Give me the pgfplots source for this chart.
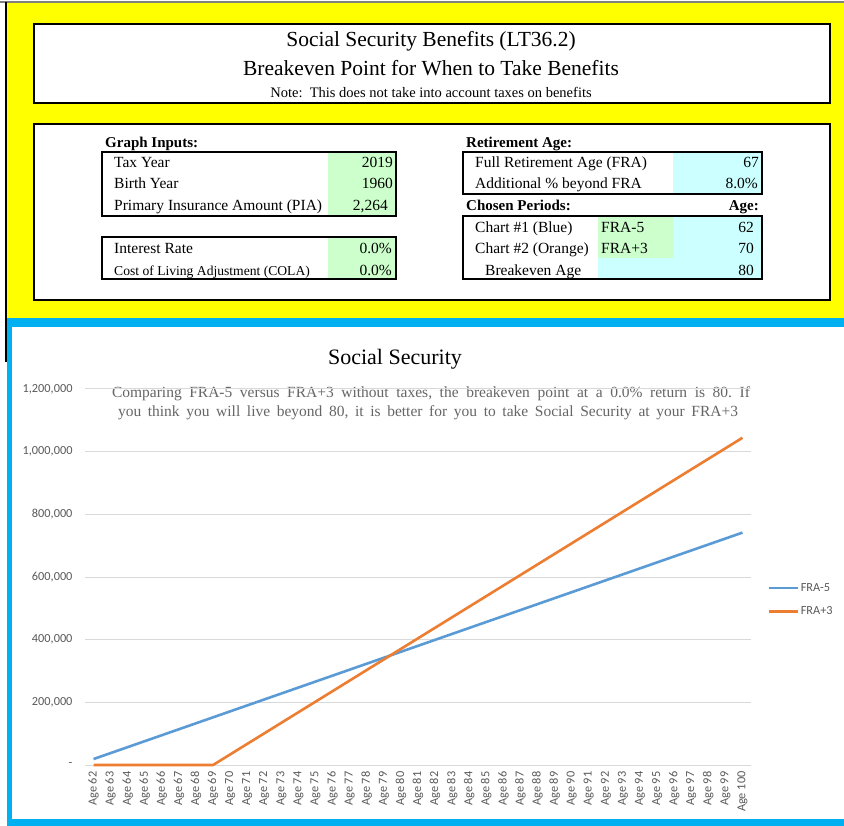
\documentclass[border=0pt]{standalone}
\usepackage{fontspec}
\setmainfont{Liberation Serif}
\newfontfamily\carlito{Carlito}
\usepackage{pgfplots}
\usepackage{pgfplotstable}
\pgfplotsset{compat=1.18}
\frenchspacing
\definecolor{ssblue}{HTML}{5B9BD5}
\definecolor{ssorange}{HTML}{ED7D31}
\definecolor{xlyellow}{HTML}{FFFF00}
\definecolor{xlband}{HTML}{00B0F0}
\definecolor{xlgreen}{HTML}{CCFFCC}
\definecolor{xlcyan}{HTML}{CCFFFF}
\definecolor{tickgray}{HTML}{595959}
\definecolor{notegray}{HTML}{666666}
\definecolor{gridgray}{HTML}{D9D9D9}

\pgfplotstableread{
idx fraA fraB
0 19017.6 0
1 38035.2 0
2 57052.8 0
3 76070.4 0
4 95088.0 0
5 114105.6 0
6 133123.2 0
7 152140.8 0
8 171158.4 33688.32
9 190176.0 67376.64
10 209193.6 101064.96
11 228211.2 134753.28
12 247228.8 168441.60
13 266246.4 202129.92
14 285264.0 235818.24
15 304281.6 269506.56
16 323299.2 303194.88
17 342316.8 336883.20
18 361334.4 370571.52
19 380352.0 404259.84
20 399369.6 437948.16
21 418387.2 471636.48
22 437404.8 505324.80
23 456422.4 539013.12
24 475440.0 572701.44
25 494457.6 606389.76
26 513475.2 640078.08
27 532492.8 673766.40
28 551510.4 707454.72
29 570528.0 741143.04
30 589545.6 774831.36
31 608563.2 808519.68
32 627580.8 842208.00
33 646598.4 875896.32
34 665616.0 909584.64
35 684633.6 943272.96
36 703651.2 976961.28
37 722668.8 1010649.60
38 741686.4 1044337.92
}\datatable

\newcommand{\fs}[1]{\fontsize{#1}{#1}\selectfont}

\begin{document}
\begin{tikzpicture}[x=1pt,y=-1pt]
\useasboundingbox (0,0) rectangle (844,826);
\fill[white] (0,0) rectangle (844,826);
% spreadsheet panel
\fill[xlyellow] (7,3) rectangle (844,318);
\draw[gray, line width=1.5] (0,2) -- (844,2);
\fill[xlband] (7,318) rectangle (844,327);
\fill[xlband] (7,327) rectangle (12,826);
\fill[xlband] (7,819) rectangle (844,826);
\draw[black, line width=1.5] (6,2) -- (6,362);
% title box
\draw[line width=2, fill=white] (34,24) rectangle (830,103);
\node[anchor=base, inner sep=0] at (431,47) {\fs{21.5}Social Security Benefits (LT36.2)};
\node[anchor=base, inner sep=0] at (431,76) {\fs{21.5}Breakeven Point for When to Take Benefits};
\node[anchor=base, inner sep=0] at (431,98) {\fs{14.5}Note:\ \ This does not take into account taxes on benefits};
% inputs box
\draw[line width=2, fill=white] (34,124) rectangle (830,300);
% cells
\fill[xlgreen] (328,152) rectangle (396,216);
\fill[xlgreen] (328,237) rectangle (396,279);
\fill[xlcyan] (673,152) rectangle (762,194);
\fill[xlgreen] (598,216) rectangle (673,258);
\fill[xlcyan] (673,216) rectangle (762,279);
\fill[xlcyan] (598,258) rectangle (673,279);
\draw[line width=2.5] (102,152) rectangle (396,216);
\draw[line width=2.5] (102,237) rectangle (396,279);
\draw[line width=2.5] (463,152) rectangle (762,194);
\draw[line width=2.5] (463,216) rectangle (762,279);
% left texts
\begin{scope}[every node/.style={inner sep=0}]
\node[anchor=base west] at (105,147.5) {\fs{15}\bfseries Graph Inputs:};
\node[anchor=base west] at (114,168) {\fs{15.5}Tax Year};
\node[anchor=base west] at (114,189) {\fs{15.5}Birth Year};
\node[anchor=base west] at (114,210.5) {\fs{15.5}Primary Insurance Amount (PIA)};
\node[anchor=base east] at (393,168) {\fs{15.5}2019};
\node[anchor=base east] at (393,189) {\fs{15.5}1960};
\node[anchor=base east] at (388,210.5) {\fs{15.5}2,264};
\node[anchor=base west] at (114,254) {\fs{15.5}Interest Rate};
\node[anchor=base west] at (114,276) {\fs{13.6}Cost of Living Adjustment (COLA)};
\node[anchor=base east] at (392,254) {\fs{15.5}0.0\%};
\node[anchor=base east] at (392,276) {\fs{15.5}0.0\%};
% right texts
\node[anchor=base west] at (466,147.5) {\fs{15}\bfseries Retirement Age:};
\node[anchor=base west] at (475,168) {\fs{15.5}Full Retirement Age (FRA)};
\node[anchor=base west] at (475,189) {\fs{15.5}Additional \% beyond FRA};
\node[anchor=base east] at (759,168) {\fs{15.5}67};
\node[anchor=base east] at (758,189) {\fs{15.5}8.0\%};
\node[anchor=base west] at (466,210.5) {\fs{15}\bfseries Chosen Periods:};
\node[anchor=base east] at (759,210.5) {\fs{15}\bfseries Age:};
\node[anchor=base west] at (475,232.5) {\fs{15.5}Chart \#1 (Blue)};
\node[anchor=base west] at (475,254) {\fs{15.5}Chart \#2 (Orange)};
\node[anchor=base west] at (485,276) {\fs{15.5}Breakeven Age};
\node[anchor=base west] at (601,232.5) {\fs{15.5}FRA-5};
\node[anchor=base west] at (601,254) {\fs{15.5}FRA+3};
\node[anchor=base east] at (754,232.5) {\fs{15.5}62};
\node[anchor=base east] at (754,254) {\fs{15.5}70};
\node[anchor=base east] at (754,276) {\fs{15.5}80};
% chart title and note
\node[anchor=base] at (395,365) {\fs{22}Social Security};
\node[anchor=base, text=notegray] at (431,398) {\fs{15.5}\makebox[638pt][s]{Comparing FRA-5 versus FRA+3 without taxes, the breakeven point at a 0.0\% return is 80. If}};
\node[anchor=base, text=notegray] at (428,417) {\fs{15.5}\makebox[620pt][s]{you think you will live beyond 80, it is better for you to take Social Security at your FRA+3}};
\end{scope}

\begin{axis}[
  at={(85pt,-765pt)}, anchor=south west,
  scale only axis, width=666pt, height=376pt,
  xmin=-0.5, xmax=38.5, ymin=0, ymax=1200000,
  scaled y ticks=false,
  xtick={0,...,38},
  xticklabels={Age 62,Age 63,Age 64,Age 65,Age 66,Age 67,Age 68,Age 69,Age 70,Age 71,Age 72,Age 73,Age 74,Age 75,Age 76,Age 77,Age 78,Age 79,Age 80,Age 81,Age 82,Age 83,Age 84,Age 85,Age 86,Age 87,Age 88,Age 89,Age 90,Age 91,Age 92,Age 93,Age 94,Age 95,Age 96,Age 97,Age 98,Age 99,Age 100},
  ytick={0,200000,400000,600000,800000,1000000,1200000},
  yticklabels={{-\hspace{6pt}},{200,000},{400,000},{600,000},{800,000},{1,000,000},{1,200,000}},
  ymajorgrids, grid style={gridgray, line width=1pt},
  axis line style={draw=none},
  major tick length=0pt,
  tick label style={font=\carlito\fs{12.3}, text=tickgray},
  xticklabel style={yshift=-3pt, rotate=90, anchor=east},
  yticklabel style={xshift=-9pt},
  clip=false,
  legend style={at={(1,0.44)}, anchor=west, xshift=16pt, draw=none, fill=none,
    font=\carlito\fs{12.3}, text=tickgray, row sep=10pt, inner sep=0pt,
    cells={anchor=west}},
  legend image code/.code={\draw[#1] (0pt,0pt) -- (29pt,0pt);},
  every axis plot/.append style={line width=2.6pt, line join=round},
]
\addplot[ssblue, mark=none] table[x=idx, y=fraA] {\datatable};
\addlegendentry{FRA-5}
\addplot[ssorange, mark=none] table[x=idx, y=fraB] {\datatable};
\addlegendentry{FRA+3}
\end{axis}
\end{tikzpicture}
\end{document}
